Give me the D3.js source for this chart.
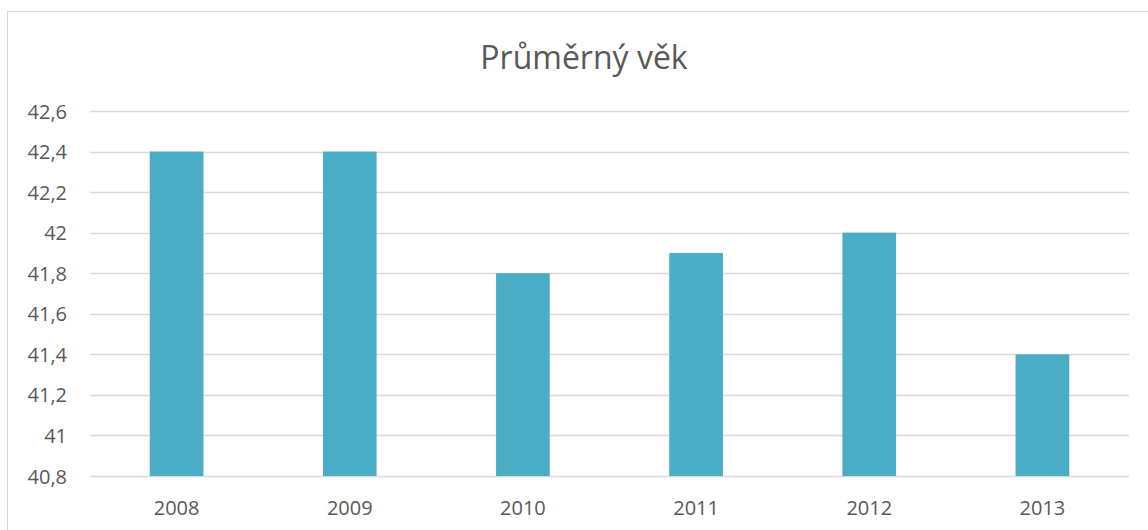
<!DOCTYPE html>
<html>
<head>
<meta charset="utf-8">
<script src="https://cdn.jsdelivr.net/npm/d3@7"></script>
<style>
body { margin: 0; background: #fff; }
text { font-family: "Open Sans", sans-serif; fill: #595959; }
</style>
</head>
<body>
<div id="chart"></div>
<script>
var years = ["2008", "2009", "2010", "2011", "2012", "2013"];
var ages = [42.4, 42.4, 41.8, 41.9, 42.0, 41.4];
var yTicks = [40.8, 41, 41.2, 41.4, 41.6, 41.8, 42, 42.2, 42.4, 42.6];

var w = 1148, h = 530;
var plotLeft = 90, plotRight = 1129, plotTop = 111, plotBottom = 476;

var svg = d3.select("#chart").append("svg").attr("width", w).attr("height", h);

/* chart frame */
svg.append("rect")
	.attr("x", 7.5).attr("y", 11.5)
	.attr("width", w + 10).attr("height", h + 10)
	.attr("fill", "none").attr("stroke", "#d9d9d9").attr("stroke-width", 1);

var xScale = d3.scaleBand().domain(years).range([plotLeft, plotRight]).paddingInner(0.69).paddingOuter(0.345);
var yScale = d3.scaleLinear().domain([40.8, 42.6]).range([plotBottom, plotTop]);

var fmt = function (d) { return d3.format("~g")(+d.toFixed(1)).replace(".", ","); };

/* gridlines */
svg.append("g").selectAll("line").data(yTicks).enter()
	.append("line")
	.attr("x1", plotLeft).attr("x2", plotRight)
	.attr("y1", function (d) { return Math.round(yScale(d)) + 0.5; })
	.attr("y2", function (d) { return Math.round(yScale(d)) + 0.5; })
	.attr("stroke", "#d9d9d9").attr("stroke-width", 1.3);

/* bars */
svg.append("g").selectAll("rect").data(ages).enter()
	.append("rect")
	.attr("x", function (d, i) { return xScale(years[i]); })
	.attr("y", function (d) { return yScale(d); })
	.attr("width", xScale.bandwidth())
	.attr("height", function (d) { return yScale(40.8) - yScale(d); })
	.attr("fill", "#4bacc6");

/* y axis */
var yAxis = d3.axisLeft(yScale).tickValues(yTicks).tickFormat(fmt).tickSize(0).tickPadding(0);
svg.append("g")
	.attr("transform", "translate(67,0)")
	.call(yAxis)
	.call(function (g) { g.select(".domain").remove(); })
	.selectAll("text")
	.style("font-size", "20px").attr("fill", "#595959").attr("dy", "0.35em");

/* x axis */
var xAxis = d3.axisBottom(xScale).tickSize(0).tickPadding(0);
svg.append("g")
	.attr("transform", "translate(0," + plotBottom + ")")
	.call(xAxis)
	.call(function (g) { g.select(".domain").remove(); })
	.selectAll("text")
	.style("font-size", "20px").attr("fill", "#595959").attr("dy", "1.95em");

/* title */
svg.append("text")
	.attr("x", 584).attr("y", 69)
	.style("text-anchor", "middle")
	.style("font-size", "32px")
	.text("Průměrný věk");
</script>
</body>
</html>
